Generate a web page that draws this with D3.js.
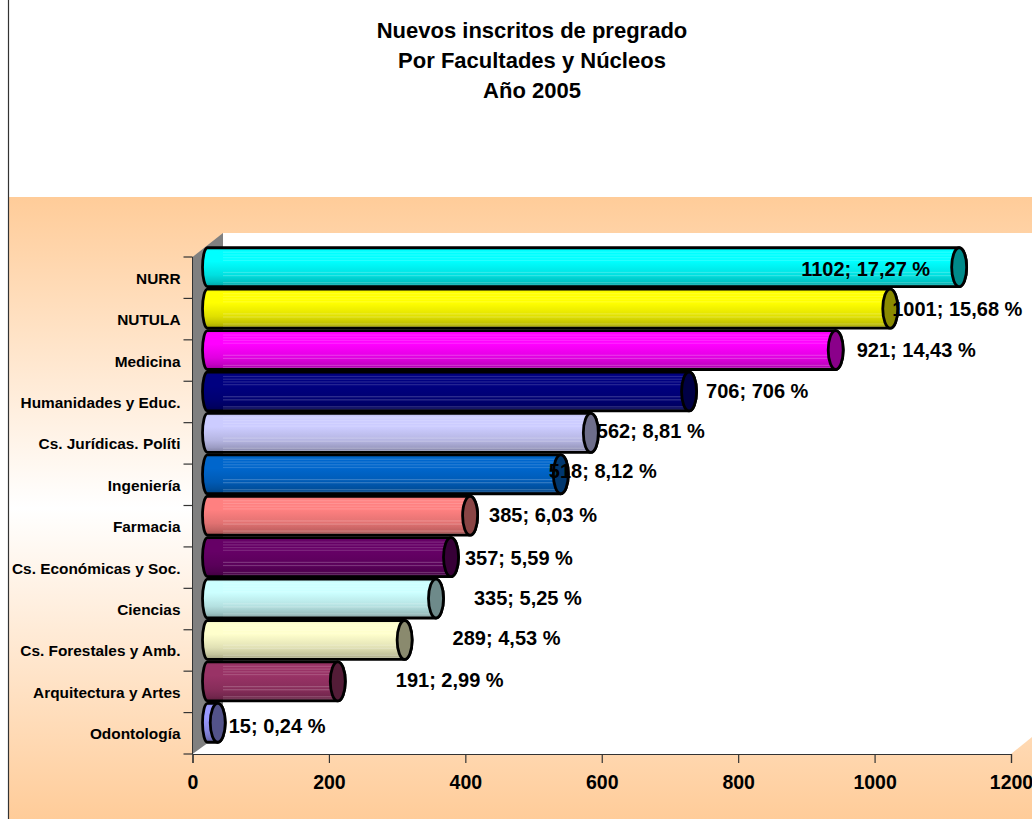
<!DOCTYPE html>
<html><head><meta charset="utf-8">
<script src="https://cdnjs.cloudflare.com/ajax/libs/d3/7.8.5/d3.min.js"></script>
<style>html,body{margin:0;padding:0;background:#fff}svg{display:block}text{font-family:"Liberation Sans",Arial,sans-serif;font-weight:bold;fill:#000}</style>
</head><body><svg id="c" width="1032" height="819"></svg>
<script>
const titleLines = ["Nuevos inscritos de pregrado","Por Facultades y Núcleos","Año 2005"];
const categories = ["NURR","NUTULA","Medicina","Humanidades y Educ.","Cs. Jurídicas. Políti","Ingeniería","Farmacia","Cs. Económicas y Soc.","Ciencias","Cs. Forestales y Amb.","Arquitectura y Artes","Odontología"];
const values = [1102,1001,921,706,562,518,385,357,335,289,191,15];
const percents = ["17,27","15,68","14,43","706","8,81","8,12","6,03","5,59","5,25","4,53","2,99","0,24"];
const colors = ["#00FFFF","#FFFF00","#FF00FF","#000080","#CCCCFF","#0066CC","#FF8080","#660066","#CCFFFF","#FFFFCC","#993366","#9999FF"];
const tickValues = [0,200,400,600,800,1000,1200];
// label offset from the bar end (px) - the source chart's labels were hand-placed
const labelDx = [-158,2,21,17,6,-12,19,14,38,48,58,11];
const labelDy = [2,0,0,0,-2,-3,-1,1,-1,-2,-1,3];

const svg = d3.select("#c");
const W=1032,H=819;
const x = d3.scaleLinear().domain([0,1200]).range([192.5,1011]);
const y = d3.scaleBand().domain(categories).range([257,754]).paddingInner(0.06).paddingOuter(0.03);
const depthX=30.5, depthY=-22;
const defs = svg.append("defs");
const bg = defs.append("linearGradient").attr("id","bg").attr("x1",0).attr("y1",0).attr("x2",0).attr("y2",1);
[[0,"#FFCC99"],[0.5,"#FFFFFF"],[1,"#FFCC99"]].forEach(s=>bg.append("stop").attr("offset",s[0]).attr("stop-color",s[1]));

svg.append("rect").attr("width",W).attr("height",H).attr("fill","#fff");
svg.append("rect").attr("x",9).attr("y",197).attr("width",W).attr("height",H-197).attr("fill","url(#bg)");
svg.append("line").attr("x1",8.5).attr("x2",8.5).attr("y1",0).attr("y2",H).attr("stroke","#333").attr("stroke-width",1.2);

const t = svg.append("g");
titleLines.forEach((s,i)=>t.append("text").attr("x",532).attr("y",38+i*30).attr("text-anchor","middle").attr("font-size",22).text(s));

const x0=x(0), yB=y.range()[1], yT=y.range()[0];
svg.append("path").attr("d",`M${x0+depthX},${yT+depthY-2}L${W},${yT+depthY-2}L${W},${yB+depthY+5}L${x(1200)},${yB}L${x0},${yB}Z`).attr("fill","#fff");
svg.append("path").attr("d",`M${x0},${yT}L${x0+depthX},${yT+depthY-2}L${x0+depthX},${yB+depthY}L${x0},${yB}Z`).attr("fill","#808080");

const ax = svg.append("g").attr("transform",`translate(0,${yB})`).call(d3.axisBottom(x).tickValues(tickValues).tickSize(9).tickPadding(12).tickFormat(d3.format("d")));
ax.select(".domain").attr("stroke","#333").attr("stroke-width",1.2);
ax.selectAll("line").attr("stroke","#333").attr("stroke-width",1.2);
ax.selectAll("text").attr("font-size",19.5).attr("font-family",'"Liberation Sans"').attr("font-weight","bold").attr("fill","#000");
const ay = svg.append("g").attr("transform",`translate(${x0},0)`);
ay.append("line").attr("x1",0).attr("x2",0).attr("y1",yT).attr("y2",yB).attr("stroke","#333");
const step = (yB-yT)/categories.length;
d3.range(categories.length+1).forEach(i=>ay.append("line").attr("x1",-9).attr("x2",0).attr("y1",yT+i*step).attr("y2",yT+i*step).attr("stroke","#333").attr("stroke-width",1.2));
categories.forEach((c,i)=>ay.append("text").attr("x",-12).attr("y",y(c)+y.bandwidth()/2+6).attr("text-anchor","end").attr("font-size",15.4).text(c));

const shade=[[0,0.9],[0.08,1],[0.35,1],[0.7,0.88],[0.88,0.76],[1,0.62]];
colors.forEach((col,i)=>{
  const g = defs.append("linearGradient").attr("id","b"+i).attr("x1",0).attr("y1",0).attr("x2",0).attr("y2",1);
  shade.forEach(s=>{const c=d3.rgb(col);g.append("stop").attr("offset",s[0]).attr("stop-color",d3.rgb(c.r*s[1],c.g*s[1],c.b*s[1]).formatHex());});
});
const stripes=[0.1,0.17,0.24,0.31,0.62,0.7,0.88,0.94];
const rx=7.5;
const bars = svg.append("g");
const dx=15, dy=-10.5;
categories.forEach((c,i)=>{
  const top=y(c)+dy, h=y.bandwidth(), bot=top+h, xs=x(0)+dx, xe=x(values[i])+dx, ry=h/2;
  const col=d3.rgb(colors[i]);
  const body=`M${xs},${top}L${xe},${top}A${rx},${ry} 0 0 1 ${xe},${bot}L${xs},${bot}A5,${ry} 0 0 1 ${xs},${top}Z`;
  const cid="cl"+i;
  defs.append("clipPath").attr("id",cid).append("path").attr("d",body);
  bars.append("path").attr("d",body).attr("fill",`url(#b${i})`);
  const sg=bars.append("g").attr("clip-path",`url(#${cid})`);
  if(xe>x0+depthX) stripes.forEach(s=>sg.append("rect").attr("x",x0+depthX).attr("width",xe-x0-depthX+rx).attr("y",top+s*h).attr("height",1.2).attr("fill","#fff").attr("fill-opacity",s>0.5?0.2:0.15));
  bars.append("path").attr("d",body).attr("fill","none").attr("stroke","#000").attr("stroke-width",2.8);
  bars.append("ellipse").attr("cx",xe).attr("cy",(top+bot)/2).attr("rx",rx).attr("ry",ry).attr("fill",d3.rgb(col.r*0.54,col.g*0.54,col.b*0.54).formatHex()).attr("stroke","#000").attr("stroke-width",2.8);
});
const labels = svg.append("g");
categories.forEach((c,i)=>{
  labels.append("text").attr("x",x(values[i])+dx+labelDx[i]).attr("y",y(c)+dy+y.bandwidth()/2+7+labelDy[i]).attr("font-size",20).text(`${values[i]}; ${percents[i]} %`);
});
</script></body></html>
